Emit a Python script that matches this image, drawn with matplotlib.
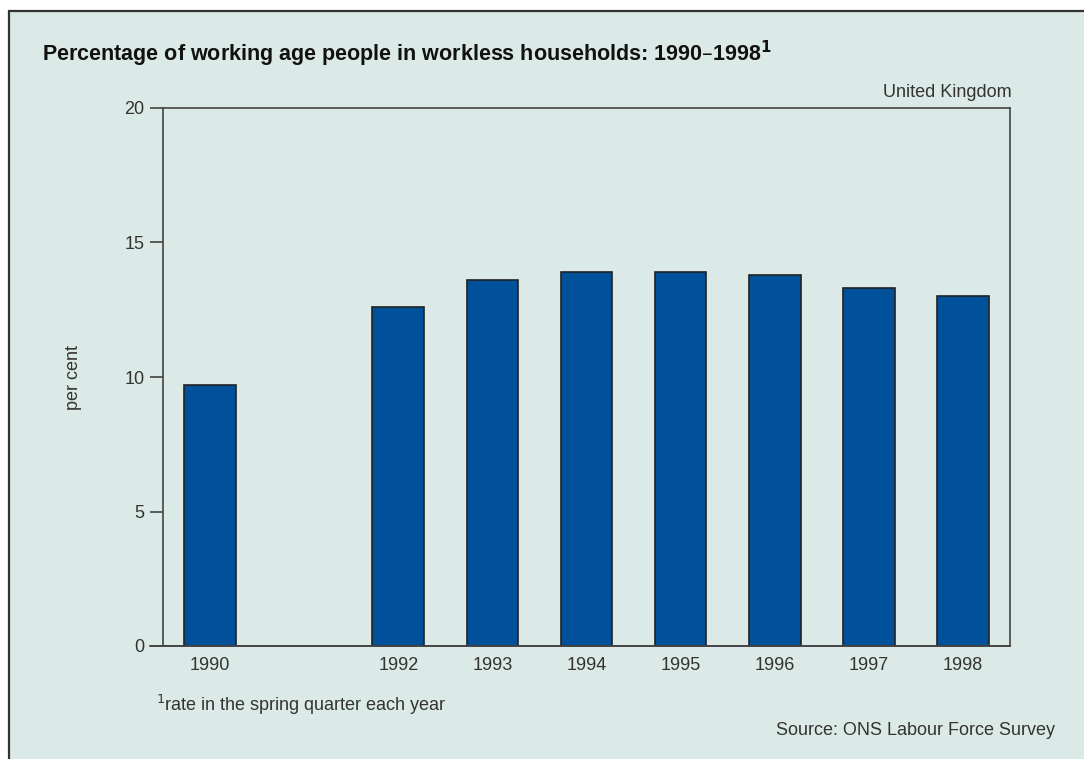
import matplotlib.pyplot as plt
from matplotlib.patches import Rectangle

years = [1990, 1992, 1993, 1994, 1995, 1996, 1997, 1998]
workless_pct = [9.7, 12.6, 13.6, 13.9, 13.9, 13.8, 13.3, 13.0]
yticks = [0, 5, 10, 15, 20]

panel_bg = '#dbeae6'
bar_blue = '#00509a'
ink = '#222222'

plt.rcParams['font.family'] = ['Liberation Sans', 'DejaVu Sans']

fig = plt.figure(figsize=(10.84, 7.59), dpi=100)
fig.patch.set_facecolor('white')

# Shaded panel with a dark frame on top and left
fig.patches.append(Rectangle((9 / 1084, -0.05), 1.1, 1 - 10.5 / 759 + 0.05,
                             transform=fig.transFigure, facecolor=panel_bg,
                             edgecolor='#333333', linewidth=1.6, zorder=-10))

ax = fig.add_axes([163 / 1084, 1 - 646 / 759, (1010 - 163) / 1084, (646 - 108) / 759])
ax.set_facecolor(panel_bg)
ax.bar(years, workless_pct, width=0.55, color=bar_blue, edgecolor=ink, linewidth=1.2, zorder=3)

ax.set_xlim(1989.5, 1998.5)
ax.set_ylim(0, 20)
ax.set_xticks(years)
ax.set_xticklabels([str(y) for y in years])
ax.set_yticks(yticks)
ax.tick_params(axis='x', length=0, pad=8, labelsize=13, labelcolor='#333333')
ax.tick_params(axis='y', length=9.5, width=1.2, color='#444444', pad=4, labelsize=13, labelcolor='#333333')
for side in ['top', 'right', 'left', 'bottom']:
    ax.spines[side].set_color('#444444')
    ax.spines[side].set_linewidth(1.2)

# baseline runs out past the left spine to the tick ends
ax.plot([-13 / 847, 1], [0, 0], transform=ax.transAxes, color='#444444',
        linewidth=1.2, clip_on=False, zorder=4)

ax.set_ylabel('per cent', fontsize=13, color='#333333', labelpad=30)

fig.text(42 / 1084, 1 - 61 / 759, 'Percentage of working age people in workless households: 1990\u20131998$^\\mathbf{1}$',
         fontsize=15.5, fontweight='bold', color='#111111', va='baseline')
fig.text(1012 / 1084, 1 - 97 / 759, 'United Kingdom', fontsize=13, color='#333333',
         ha='right', va='baseline')
fig.text(156 / 1084, 1 - 711 / 759, '$^1$rate in the spring quarter each year', fontsize=13,
         color='#333333', va='baseline')
fig.text(1055 / 1084, 1 - 735 / 759, 'Source: ONS Labour Force Survey', fontsize=13,
         color='#333333', ha='right', va='baseline')

fig.savefig('out.png', dpi=100, facecolor='white')
